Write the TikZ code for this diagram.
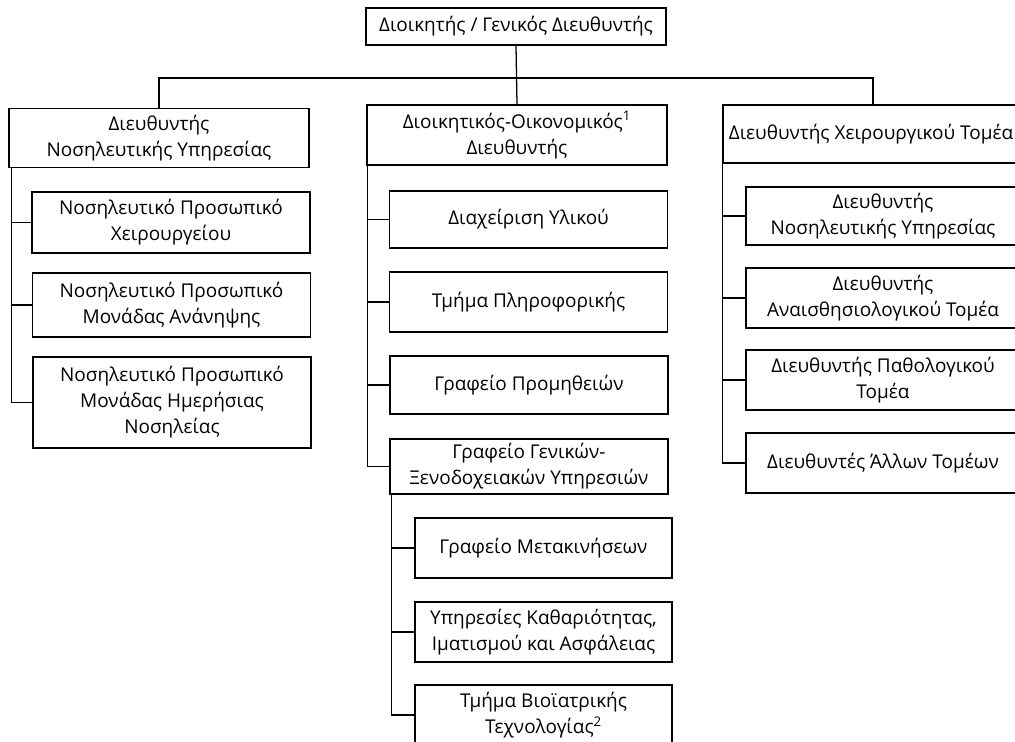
\documentclass[tikz,border=0pt]{standalone}
\usepackage{fontspec}
\setmainfont{Open Sans}

\begin{document}
\begin{tikzpicture}[x=0.025cm,y=-0.025cm,
  box/.style={draw,line width=0.9pt,align=center,inner sep=2pt,
    font=\fontsize{13.5}{18.5}\selectfont},
  sub/.style={box,minimum width=6.95cm},
  link/.style={line width=0.9pt}]

\useasboundingbox (0,0) rectangle (1015,742);
\clip (0,0) rectangle (1015,742);

% Διοικητής
\node[box,minimum width=7.5cm,minimum height=0.925cm] (dioik) at (516,26.5) {Διοικητής / Γενικός Διευθυντής};

% Τρεις διευθύνσεις
\node[box,minimum width=7.5cm,minimum height=1.475cm] (nosil) at (159,138) {Διευθυντής\\Νοσηλευτικής Υπηρεσίας};
\node[box,minimum width=7.5cm,minimum height=1.5cm] (oikon) at (517,135) {Διοικητικός-Οικονομικός\textsuperscript{1}\\Διευθυντής};
\node[box,minimum width=7.4cm,minimum height=1.45cm] (xeir) at (871,134) {Διευθυντής Χειρουργικού Τομέα};

% Νοσηλευτική υπηρεσία
\node[sub,minimum height=1.525cm] (n1) at (171,222.5) {Νοσηλευτικό Προσωπικό\\Χειρουργείου};
\node[sub,minimum height=1.6cm] (n2) at (171.5,305) {Νοσηλευτικό Προσωπικό\\Μονάδας Ανάνηψης};
\node[sub,minimum height=2.275cm] (n3) at (172,402.5) {Νοσηλευτικό Προσωπικό\\Μονάδας Ημερήσιας\\Νοσηλείας};

% Διοικητική-οικονομική υπηρεσία
\node[sub,minimum height=1.425cm] (o1) at (528.5,219.5) {Διαχείριση Υλικού};
\node[sub,minimum height=1.5cm] (o2) at (528.5,302) {Τμήμα Πληροφορικής};
\node[sub,minimum height=1.45cm] (o3) at (529,385) {Γραφείο Προμηθειών};
\node[sub,minimum height=1.375cm] (o4) at (529,466.5) {Γραφείο Γενικών-\\Ξενοδοχειακών Υπηρεσιών};

% Γενικές υπηρεσίες
\node[box,minimum width=6.425cm,minimum height=1.5cm] (g1) at (543.5,548) {Γραφείο Μετακινήσεων};
\node[box,minimum width=6.425cm,minimum height=1.5cm] (g2) at (543.5,632) {Υπηρεσίες Καθαριότητας,\\Ιματισμού και Ασφάλειας};
\node[box,minimum width=6.425cm,minimum height=1.5cm] (g3) at (543.5,715) {Τμήμα Βιοϊατρικής\\Τεχνολογίας\textsuperscript{2}};

% Χειρουργικός τομέας
\node[box,minimum width=6.85cm,minimum height=1.45cm] (x1) at (883,216) {Διευθυντής\\Νοσηλευτικής Υπηρεσίας};
\node[box,minimum width=6.85cm,minimum height=1.5cm] (x2) at (883,298) {Διευθυντής\\Αναισθησιολογικού Τομέα};
\node[box,minimum width=6.85cm,minimum height=1.5cm] (x3) at (883,380) {Διευθυντής Παθολογικού\\Τομέα};
\node[box,minimum width=6.85cm,minimum height=1.5cm] (x4) at (883,463) {Διευθυντές Άλλων Τομέων};

% Σύνδεσμοι
\coordinate (bus) at (517,78);
\coordinate (dropL) at (nosil.north);
\coordinate (dropR) at (873,105);
\draw[link] (dioik.south) -- (oikon.north);
\draw[link] (dropL) -- (dropL |- bus) -- (dropR |- bus) -- (dropR);

\coordinate (spineN) at ([xshift=3*0.025cm]nosil.south west);
\coordinate (spineO) at ([xshift=1*0.025cm]oikon.south west);
\coordinate (spineG) at ([xshift=2*0.025cm]o4.south west);
\coordinate (spineX) at (xeir.south west);

\draw[link] (spineN) |- (n3.west);
\foreach \c in {n1,n2} \draw[link] (\c.west) -- (\c.west -| spineN);
\draw[link] (spineO) |- (o4.west);
\foreach \c in {o1,o2,o3} \draw[link] (\c.west) -- (\c.west -| spineO);
\draw[link] (spineG) |- (g3.west);
\foreach \c in {g1,g2} \draw[link] (\c.west) -- (\c.west -| spineG);
\draw[link] (spineX) |- (x4.west);
\foreach \c in {x1,x2,x3} \draw[link] (\c.west) -- (\c.west -| spineX);

\end{tikzpicture}
\end{document}
